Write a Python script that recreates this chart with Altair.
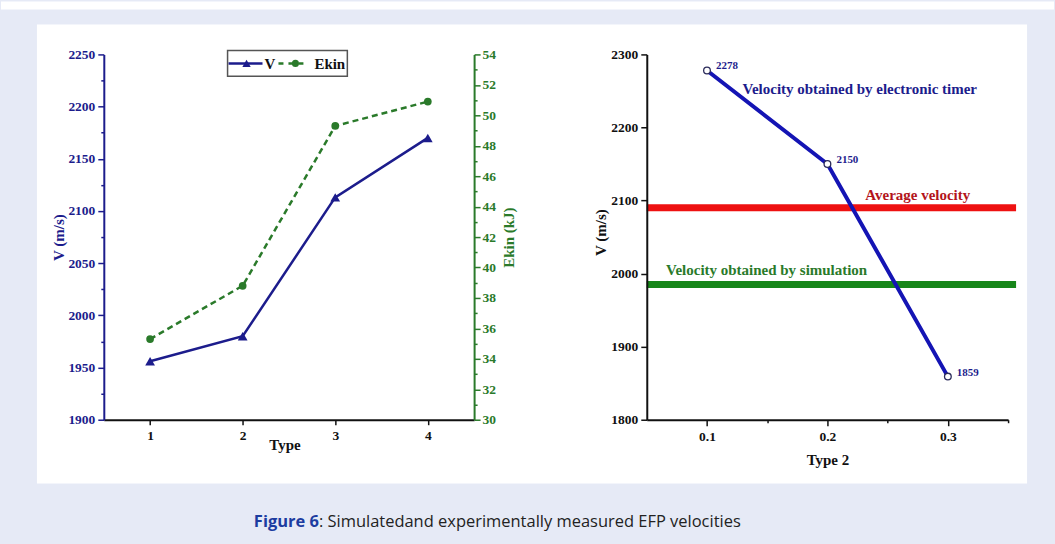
import altair as alt
import pandas as pd

# ---------------- data ----------------
types = [1, 2, 3, 4]
v_ms = [1956, 1980, 2113, 2170]
ekin_kj = [35.3, 38.8, 49.3, 50.9]

type2 = [0.1, 0.2, 0.3]
v_timer = [2278, 2150, 1859]
ref_names = ["Average velocity", "Velocity obtained by simulation"]
ref_values = [2090, 1985]

ann_text = ["Velocity obtained by electronic timer", "Average velocity", "Velocity obtained by simulation"]
ann_x = [0.1295, 0.2315, 0.066]
ann_y = [2252, 2108, 2005]
ann_color = ["#1c1c8c", "#b3141b", "#2a7a2a"]

caption_bold = "Figure 6"
caption_rest = ": Simulatedand experimentally measured EFP velocities"

# ---------------- style ----------------
SERIF = "Liberation Serif"
SANS = "Open Sans"
NAVY = "#1c1c8c"
GREEN = "#2a7a2a"
BLUE = "#1414b4"
PAGE_BG = "#e6eaf6"

LW, LH = 371, 366   # left plot size
RW, RH = 362, 366   # right plot size

one = pd.DataFrame({"k": [0]})


def axis_common(color="#111"):
    return dict(domainColor=color, domainWidth=2, tickColor=color, tickWidth=1.5,
                labelColor=color, labelFont=SERIF, labelFontWeight="bold", labelFontSize=13.5,
                titleColor=color, titleFont=SERIF, titleFontWeight="bold", titleFontSize=15,
                grid=False, zindex=1)


# ---------------- left chart ----------------
left_df = pd.DataFrame({"Type": types, "V": v_ms, "Ekin": ekin_kj})

page_bg = alt.Chart(one).mark_rect(fill=PAGE_BG).encode(
    x=alt.value(-103), x2=alt.value(952), y=alt.value(-53), y2=alt.value(491))
top_band = alt.Chart(one).mark_rect(fill="white").encode(
    x=alt.value(-103), x2=alt.value(952), y=alt.value(-53), y2=alt.value(-45))
panel = alt.Chart(one).mark_rect(fill="white").encode(
    x=alt.value(-67), x2=alt.value(925), y=alt.value(-30), y2=alt.value(430))
cap1 = alt.Chart(pd.DataFrame({"t": [caption_bold]})).mark_text(
    align="right", baseline="middle", font=SANS, fontSize=16.5, fontWeight="bold", color="#1c3ca0"
).encode(x=alt.value(215.5), y=alt.value(468.7), text="t:N")
cap2 = alt.Chart(pd.DataFrame({"t": [caption_rest]})).mark_text(
    align="left", baseline="middle", font=SANS, fontSize=16.5, color="#222"
).encode(x=alt.value(215.5), y=alt.value(468.7), text="t:N")

xL = alt.X("Type:Q", scale=alt.Scale(domain=[0.5, 4.5], nice=False, zero=False),
           axis=alt.Axis(values=[1, 1.5, 2, 2.5, 3, 3.5, 4], format="d",
                         labelExpr="datum.value % 1 === 0 ? format(datum.value, 'd') : ''",
                         tickSize={"condition": {"test": "datum.value % 1 !== 0", "value": 3}, "value": 5},
                         labelPadding=4, title="Type", titleX=181, titleY=25,
                         titleBaseline="middle", titleAlign="center", **axis_common("#111")))

base_v = alt.Chart(left_df).encode(
    x=xL,
    y=alt.Y("V:Q", scale=alt.Scale(domain=[1900, 2250], nice=False, zero=False),
            axis=alt.Axis(values=list(range(1900, 2251, 25)), format="d",
                          labelExpr="datum.value % 50 === 0 ? format(datum.value, 'd') : ''",
                          tickSize={"condition": {"test": "datum.value % 50 !== 0", "value": 3}, "value": 6},
                          labelPadding=3, title="V (m/s)", titleX=-45, titleY=183,
                          titleAngle=270, titleBaseline="middle", titleAlign="center",
                          **axis_common(NAVY))))
v_layer = alt.layer(
    base_v.mark_line(color=NAVY, strokeWidth=2.5),
    base_v.mark_point(shape="triangle-up", filled=True, color=NAVY, size=95, opacity=1),
)

base_e = alt.Chart(left_df).encode(
    x=alt.X("Type:Q"),
    y=alt.Y("Ekin:Q", scale=alt.Scale(domain=[30, 54], nice=False, zero=False),
            axis=alt.Axis(orient="right", values=list(range(30, 55)), format="d",
                          labelExpr="datum.value % 2 === 0 ? format(datum.value, 'd') : ''",
                          tickSize={"condition": {"test": "datum.value % 2 !== 0", "value": 3}, "value": 6},
                          labelPadding=2, title="Ekin (kJ)", titleX=34, titleY=183,
                          titleAngle=270, titleBaseline="middle", titleAlign="center",
                          **axis_common(GREEN))))
e_layer = alt.layer(
    base_e.mark_line(color=GREEN, strokeWidth=2.5, strokeDash=[6, 4]),
    base_e.mark_point(shape="circle", filled=True, color=GREEN, size=60, opacity=1),
)

# legend (box, symbols, labels)
leg_box = alt.Chart(one).mark_rect(fill="white", stroke="#555", strokeWidth=1.5).encode(
    x=alt.value(124), x2=alt.value(244), y=alt.value(-4), y2=alt.value(22))
leg_v_line = alt.Chart(one).mark_rule(color=NAVY, strokeWidth=2.5).encode(
    x=alt.value(125), x2=alt.value(159), y=alt.value(9))
leg_v_pt = alt.Chart(one).mark_point(shape="triangle-up", filled=True, color=NAVY, size=70, opacity=1).encode(
    x=alt.value(143), y=alt.value(9))
leg_e_line = alt.Chart(one).mark_rule(color=GREEN, strokeWidth=2.5, strokeDash=[5, 5]).encode(
    x=alt.value(175), x2=alt.value(205), y=alt.value(9))
leg_e_pt = alt.Chart(one).mark_point(shape="circle", filled=True, color=GREEN, size=50, opacity=1).encode(
    x=alt.value(192), y=alt.value(9))
leg_text = alt.Chart(pd.DataFrame({"t": ["V", "Ekin"], "px": [161, 211]})).mark_text(
    align="left", baseline="middle", font=SERIF, fontSize=15, fontWeight="bold", color="#111"
).encode(x=alt.X("px:Q", scale=None), y=alt.value(10), text="t:N")

left = alt.layer(
    page_bg, top_band, panel, cap1, cap2,
    v_layer, e_layer,
    leg_box, leg_v_line, leg_v_pt, leg_e_line, leg_e_pt, leg_text,
).resolve_scale(y="independent").properties(width=LW, height=LH)

# ---------------- right chart ----------------
right_df = pd.DataFrame({"Type 2": type2, "V": v_timer})
ref_df = pd.DataFrame({"name": ref_names, "V": ref_values})
ann_df = pd.DataFrame({"label": ann_text, "Type 2": ann_x, "V": ann_y, "c": ann_color})

xR = alt.X("Type 2:Q", scale=alt.Scale(domain=[0.05, 0.35], nice=False, zero=False),
           axis=alt.Axis(values=[0.1, 0.15, 0.2, 0.25, 0.3, 0.35],
                         labelExpr="abs(datum.value*10 - round(datum.value*10)) < 0.001 ? format(datum.value, '.1f') : ''",
                         tickSize={"condition": {"test": "abs(datum.value*10 - round(datum.value*10)) > 0.001", "value": 3}, "value": 6},
                         labelPadding=4, title="Type 2", titleX=181, titleY=40,
                         titleBaseline="middle", titleAlign="center", **axis_common("#111")))
yR = alt.Y("V:Q", scale=alt.Scale(domain=[1800, 2300], nice=False, zero=False),
           axis=alt.Axis(values=list(range(1800, 2301, 50)), format="d",
                         labelExpr="datum.value % 100 === 0 ? format(datum.value, 'd') : ''",
                         tickSize={"condition": {"test": "datum.value % 100 !== 0", "value": 3}, "value": 6},
                         labelPadding=3, title="V (m/s)", titleX=-46, titleY=178,
                         titleAngle=270, titleBaseline="middle", titleAlign="center",
                         **axis_common("#111")))

rules = alt.Chart(ref_df).mark_rule(strokeWidth=7).encode(
    y=alt.Y("V:Q"), x=alt.value(0), x2=alt.value(370),
    color=alt.Color("name:N", scale=alt.Scale(domain=ref_names, range=["#ee1111", "#17861a"]), legend=None))
base_r = alt.Chart(right_df).encode(x=xR, y=yR)
r_line = base_r.mark_line(color=BLUE, strokeWidth=4)
r_pts = base_r.mark_point(shape="circle", filled=True, fill="white", stroke="#2b2b5a",
                          strokeWidth=1.3, size=45, opacity=1)
r_lbl = base_r.mark_text(align="left", baseline="middle", dx=9, dy=-4, font=SERIF, fontSize=11,
                         fontWeight="bold", color=NAVY).encode(text=alt.Text("V:Q", format="d"))
anns = alt.Chart(ann_df).mark_text(align="left", baseline="middle", font=SERIF, fontSize=15,
                                   fontWeight="bold").encode(
    x="Type 2:Q", y="V:Q", text="label:N", color=alt.Color("c:N", scale=None))

right = alt.layer(rules, r_line, r_pts, r_lbl, anns).properties(width=RW, height=RH)

chart = alt.hconcat(left, right, spacing=173, bounds="flush").properties(
    padding=0, background=PAGE_BG
).configure_view(stroke="transparent")

chart.save("out.html", embed_options={"renderer": "svg", "actions": False})
